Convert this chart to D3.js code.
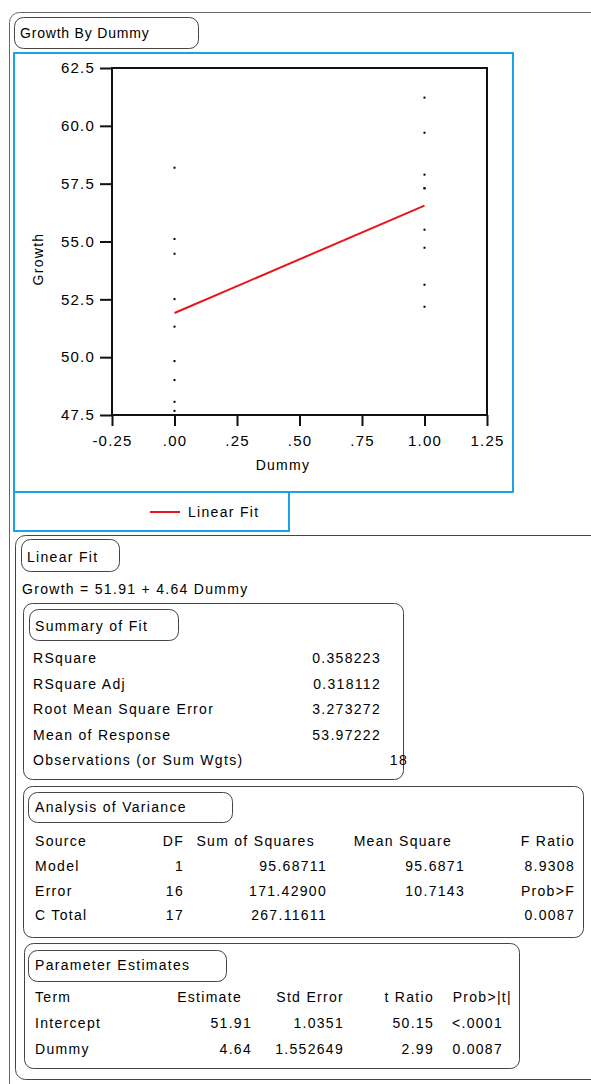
<!DOCTYPE html>
<html>
<head>
<meta charset="utf-8">
<script src="https://cdn.jsdelivr.net/npm/d3@7"></script>
<style>
  body { margin: 0; background: #fff; }
  svg text { font-family: "Liberation Sans", Arial, sans-serif; font-size: 14px; fill: #000; letter-spacing: 1.3px; }
</style>
</head>
<body>
<div id="chart"></div>
<script>
// data
const dummyZero = [58.19, 55.11, 54.47, 52.51, 51.32, 49.83, 49.01, 48.07, 47.68];
const dummyOne = [61.22, 59.70, 57.89, 57.30, 57.30, 55.51, 54.73, 53.13, 52.18];
const fitIntercept = 51.91, fitSlope = 4.64;
const xTicks = [-0.25, 0, 0.25, 0.5, 0.75, 1, 1.25];
const xTickLabels = ["-0.25", ".00", ".25", ".50", ".75", "1.00", "1.25"];
const yTicks = [47.5, 50, 52.5, 55, 57.5, 60, 62.5];

const summaryLabels = ["RSquare", "RSquare Adj", "Root Mean Square Error", "Mean of Response", "Observations (or Sum Wgts)"];
const summaryValues = ["0.358223", "0.318112", "3.273272", "53.97222", "18"];

const anovaHeader = ["Source", "DF", "Sum of Squares", "Mean Square", "F Ratio"];
const anovaRows = [
  ["Model", "1", "95.68711", "95.6871", "8.9308"],
  ["Error", "16", "171.42900", "10.7143", "Prob>F"],
  ["C Total", "17", "267.11611", "", "0.0087"]
];
const paramHeader = ["Term", "Estimate", "Std Error", "t Ratio", "Prob>|t|"];
const paramRows = [
  ["Intercept", "51.91", "1.0351", "50.15", "<.0001"],
  ["Dummy", "4.64", "1.552649", "2.99", "0.0087"]
];

const W = 591, H = 1084;
const blue = "#1ba3e6";
const svg = d3.select("#chart").append("svg").attr("width", W).attr("height", H);

// rounded outline box helper
const box = (x, y, w, h, r, stroke) => svg.append("rect")
  .attr("x", x + 0.5).attr("y", y + 0.5).attr("width", w).attr("height", h)
  .attr("rx", r).attr("fill", "none").attr("stroke", stroke || "#444").attr("stroke-width", 1);

// outer report frame
box(9, 12, 620, 1100, 10, "#666");
box(14, 17, 184, 31, 9);
svg.append("text").attr("x", 20).attr("y", 38).style("letter-spacing", "0.8px").text("Growth By Dummy");

// blue plot frame and legend frame
svg.append("rect").attr("x", 14).attr("y", 53).attr("width", 499).attr("height", 439)
  .attr("fill", "none").attr("stroke", blue).attr("stroke-width", 2);
svg.append("rect").attr("x", 14).attr("y", 492).attr("width", 275).attr("height", 39)
  .attr("fill", "none").attr("stroke", blue).attr("stroke-width", 2);

const x = d3.scaleLinear().domain([-0.25, 1.25]).range([112, 487]);
const y = d3.scaleLinear().domain([47.5, 62.5]).range([415, 68]);

const plot = svg.append("g");
plot.append("rect").attr("x", x(-0.25)).attr("y", y(62.5))
  .attr("width", x(1.25) - x(-0.25)).attr("height", y(47.5) - y(62.5))
  .attr("fill", "none").attr("stroke", "#111").attr("stroke-width", 2);

const yAxis = plot.append("g").attr("transform", `translate(${x(-0.25)},0)`)
  .call(d3.axisLeft(y).tickValues(yTicks).tickFormat(d3.format(".1f")).tickSize(12).tickPadding(5));
const xAxis = plot.append("g").attr("transform", `translate(0,${y(47.5)})`)
  .call(d3.axisBottom(x).tickValues(xTicks).tickFormat((d, i) => xTickLabels[i]).tickSize(11).tickPadding(9));
[yAxis, xAxis].forEach(a => {
  a.select(".domain").remove();
  a.selectAll(".tick line").attr("stroke", "#111").attr("stroke-width", 2);
  a.selectAll(".tick text").style("font-size", "15px").style("letter-spacing", "1.2px")
    .style("font-family", "Liberation Sans, Arial, sans-serif").attr("fill", "#000");
});

plot.append("text").attr("transform", `translate(43,259) rotate(-90)`).attr("text-anchor", "middle").text("Growth");
plot.append("text").attr("x", 283).attr("y", 470).attr("text-anchor", "middle").text("Dummy");

const pts = dummyZero.map(v => [0, v]).concat(dummyOne.map(v => [1, v]));
plot.selectAll("rect.pt").data(pts).join("rect").attr("class", "pt")
  .attr("x", d => x(d[0]) - 1).attr("y", d => y(d[1]) - 1).attr("width", 2).attr("height", 2).attr("fill", "#000");

const line = d3.line().x(d => x(d)).y(d => y(fitIntercept + fitSlope * d));
plot.append("path").attr("d", line([0, 1])).attr("fill", "none").attr("stroke", "#e8141b").attr("stroke-width", 2);

// legend
svg.append("line").attr("x1", 150).attr("x2", 180).attr("y1", 512).attr("y2", 512).attr("stroke", "#e8141b").attr("stroke-width", 2);
svg.append("text").attr("x", 188).attr("y", 517).text("Linear Fit");

// Linear Fit report
box(15, 535, 600, 544, 10);
box(21, 539, 98, 32, 9);
svg.append("text").attr("x", 27).attr("y", 562).text("Linear Fit");
svg.append("text").attr("x", 22).attr("y", 594).text(`Growth = ${fitIntercept} + ${fitSlope} Dummy`);

// Summary of Fit
box(23, 603, 380, 176, 9);
box(29, 609, 149, 31, 9);
svg.append("text").attr("x", 35).attr("y", 631).text("Summary of Fit");
summaryLabels.forEach((s, i) => {
  const yy = 663 + i * 25.5;
  svg.append("text").attr("x", 33).attr("y", yy).text(s);
  svg.append("text").attr("x", i === 4 ? 408 : 381).attr("y", yy).attr("text-anchor", "end").text(summaryValues[i]);
});

// Analysis of Variance
box(23, 786, 560, 151, 9);
box(28, 792, 204, 30, 9);
svg.append("text").attr("x", 35).attr("y", 812).text("Analysis of Variance");
const anovaX = [35, 184, 327, 465, 575];
const anovaHx = [35, 184, 315, 452, 575];
anovaHeader.forEach((h, j) => {
  svg.append("text").attr("x", anovaHx[j]).attr("y", 846).attr("text-anchor", j === 0 ? "start" : "end").text(h);
});
anovaRows.forEach((r, i) => r.forEach((c, j) => {
  svg.append("text").attr("x", anovaX[j]).attr("y", 871 + i * 24.5).attr("text-anchor", j === 0 ? "start" : "end").text(c);
}));

// Parameter Estimates
box(24, 943, 495, 125, 9);
box(28, 950, 198, 31, 9);
svg.append("text").attr("x", 35).attr("y", 970).text("Parameter Estimates");
const paramHx = [35, 242, 344, 434, 512];
const paramX = [35, 252, 344, 434, 503];
paramHeader.forEach((h, j) => {
  svg.append("text").attr("x", paramHx[j]).attr("y", 1002).attr("text-anchor", j === 0 ? "start" : "end").text(h);
});
paramRows.forEach((r, i) => r.forEach((c, j) => {
  svg.append("text").attr("x", paramX[j]).attr("y", 1028 + i * 26).attr("text-anchor", j === 0 ? "start" : "end").text(c);
}));
</script>
</body>
</html>
